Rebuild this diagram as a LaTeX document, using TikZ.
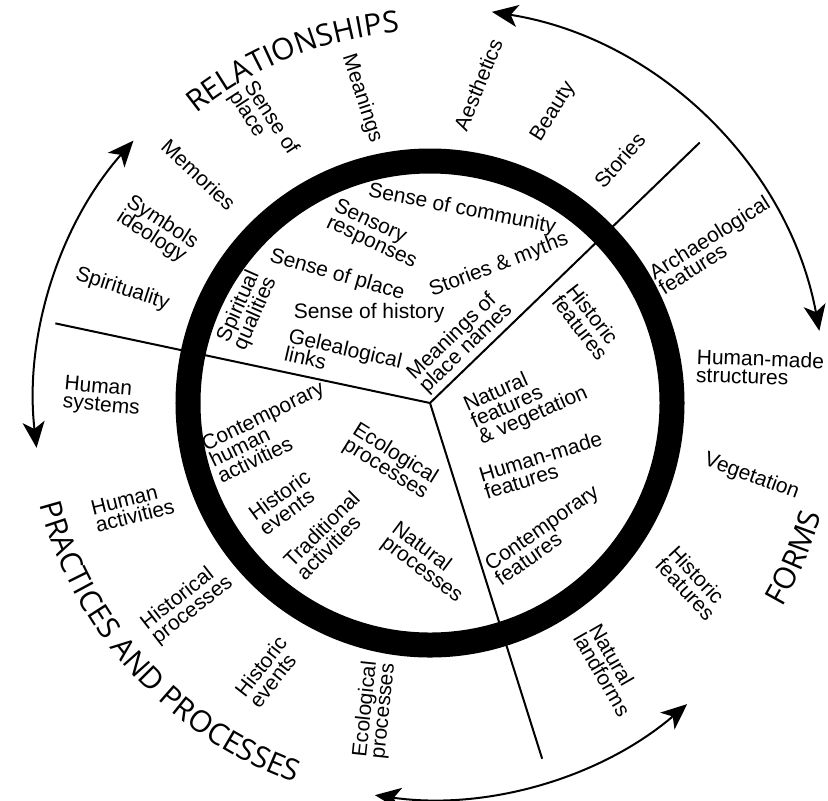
\documentclass[tikz,border=0pt]{standalone}
\usepackage{fontspec}
\setmainfont{Liberation Sans}
\newfontfamily\headfont{Open Sans}
\usetikzlibrary{arrows.meta,decorations.text}
\newcommand\wordfont{\fontsize{10.5}{9}\selectfont\lineskiplimit=-20pt}
\newcommand\titlefont{\headfont\fontsize{15}{15}\selectfont}
\tikzstyle{cyclearrow} = [line width=1pt,<->,>={Stealth[length=13pt,width=11pt,inset=3.5pt]}]
\tikzstyle{spoke} = [line width=1pt]
\tikzstyle{rim} = [line width=12.5pt]
\tikzstyle{word} = [inner sep=0pt,align=left,font=\wordfont]
\tikzstyle{heading} = [decorate,decoration={text along path,text align=center}]

\begin{document}
\begin{tikzpicture}[x=0.5pt,y=0.5pt]
	\def \rring {242}
	\def \rarc {396}
	\path [use as bounding box,fill=white] (-430,-397) rectangle (398,403);
	\begin{scope}
		
		\coordinate (hub) at (0,0);
		\coordinate (relend) at (168:383);
		\coordinate (formend) at (44:375);
		\coordinate (pracend) at (-72.5:373);
		
		\draw [spoke] (hub) -- (relend);
		\draw [spoke] (hub) -- (formend);
		\draw [spoke] (hub) -- (pracend);
		\draw [rim] (hub) circle [radius=\rring];
		
		\coordinate (formarc) at (81:\rarc);
		\coordinate (relarc) at (138.5:\rarc);
		\coordinate (pracarc) at (262:\rarc);
		
		\draw [cyclearrow] (formarc) arc [start angle=81,end angle=10.5,radius=\rarc];
		\draw [cyclearrow] (relarc) arc [start angle=138.5,end angle=186.5,radius=\rarc];
		\draw [cyclearrow] (pracarc) arc [start angle=262,end angle=310.5,radius=\rarc];
	\end{scope}
	
	\node (stories) at (52:308) [word,rotate=49] {Stories};
	\node (beauty) at (67:316) [word,rotate=58] {Beauty};
	\node (aesthetics) at (81.4:322) [word,rotate=68] {Aesthetics};
	\node (meanings) at (102.6:312) [word,rotate=-72] {Meanings};
	\node (senseplace) at (120.8:326) [word,rotate=-57] {Sense of\\place};
	\node (memories) at (135.4:325) [word,rotate=-43] {Memories};
	\node (symbols) at (147.6:323) [word,rotate=-33] {Symbols\\ideology};
	\node (spirituality) at (159.7:328) [word,rotate=-18] {Spirituality};
	\node (humsystems) at (179:328) [word,rotate=-5] {Human\\systems};
	\node (humactivities) at (199.3:315) [word,rotate=14] {Human\\activities};
	\node (histprocesses) at (219.5:315) [word,rotate=38] {Historical\\processes};
	\node (histevents) at (238.9:314) [word,rotate=52] {Historic\\events};
	\node (ecoprocesses) at (259.8:312) [word,rotate=84] {Ecological\\processes};
	\node (landforms) at (-56:322) [word,rotate=-60] {Natural\\landforms};
	\node (histfeatures) at (-34.5:318) [word,rotate=-47] {Historic\\features};
	\node (vegetation) at (-12.9:330) [word,rotate=-20] {Vegetation};
	\node (structures) at (6.1:332) [word,rotate=-2] {Human-made\\structures};
	\node (archaeology) at (29.1:325) [word,rotate=32] {Archaeological\\features};
	
	\node (community) at (80.6:196) [word,rotate=-11] {Sense of community};
	\node (sensory) at (108:177) [word,rotate=-25] {Sensory\\responses};
	\node (innerplace) at (126:158) [word,rotate=-16] {Sense of place};
	\node (history) at (124:109) [word] {Sense of history};
	\node (spiritual) at (153:205) [word,rotate=66] {Spiritual\\qualities};
	\node (genealogy) at (152:98) [word,rotate=-13] {Gelealogical\\links};
	\node (myths) at (63.4:154) [word,rotate=21] {Stories \& myths};
	\node (placenames) at (63.8:68) [word,rotate=44] {Meanings of\\place names};
	\node (innerhist) at (27.3:177) [word,rotate=-52] {Historic\\features};
	\node (natfeatures) at (2:96) [word,rotate=24] {Natural\\features\\\& vegetation};
	\node (humfeatures) at (-28.8:129) [word,rotate=17] {Human-made\\features};
	\node (contfeatures) at (-48.5:176) [word,rotate=35] {Contemporary\\features};
	\node (conthuman) at (190.3:162) [word,rotate=26] {Contemporary\\human\\activities};
	\node (innereco) at (235.9:71) [word,rotate=-32] {Ecological\\processes};
	\node (innerevents) at (214.3:176) [word,rotate=36] {Historic\\events};
	\node (traditional) at (232.3:167) [word,rotate=45] {Traditional\\activities};
	\node (natprocesses) at (268.9:160) [word,rotate=-37] {Natural\\processes};
	
	\coordinate (reltitle) at (141:372);
	\coordinate (practitle) at (185:403);
	\coordinate (formtitle) at (-38:407);
	\path [heading,decoration={text={|\titlefont|RELATIONSHIPS}}] (reltitle) arc [start angle=141,end angle=82.6,radius=372];
	\path [heading,decoration={text={|\titlefont|PRACTICES AND PROCESSES}}] (practitle) arc [start angle=185,end angle=260,radius=403];
	\path [heading,decoration={text={|\titlefont|FORMS}}] (formtitle) arc [start angle=-38,end angle=-8,radius=407];
\end{tikzpicture}
\end{document}
